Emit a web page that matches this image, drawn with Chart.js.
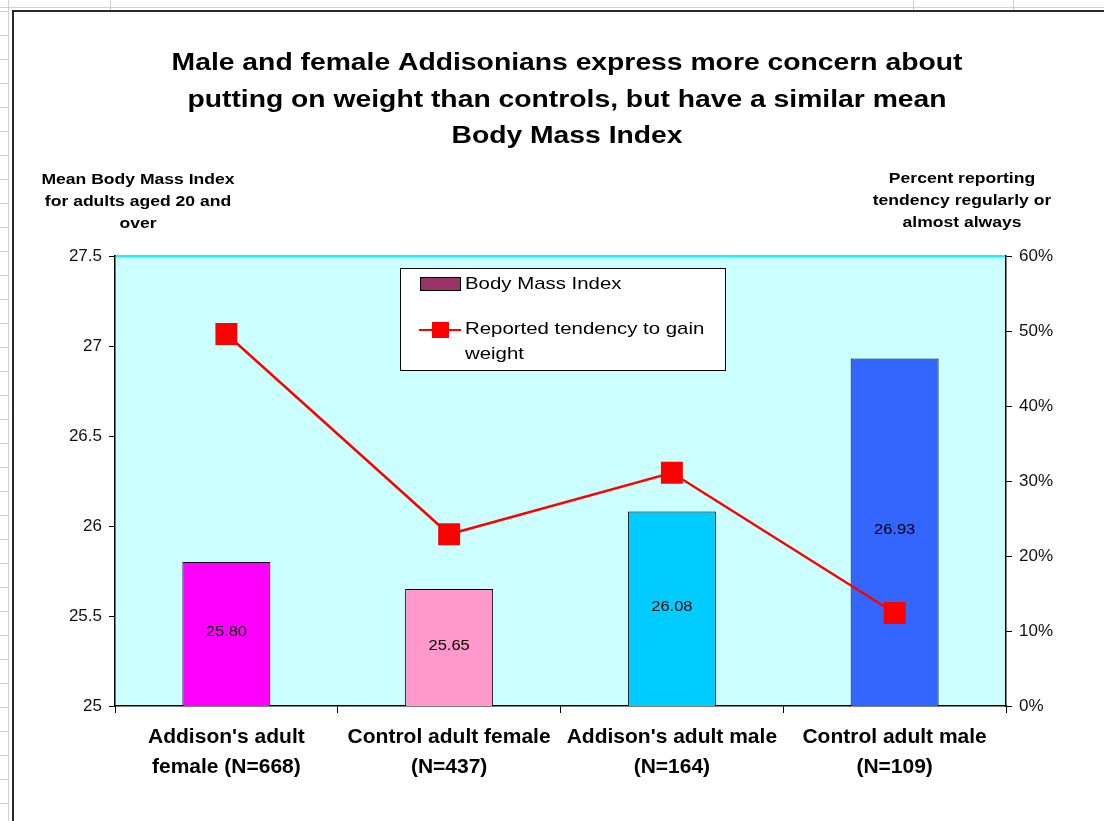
<!DOCTYPE html>
<html lang="en">
<head>
  <meta charset="UTF-8" />
  <title>Addisonians - BMI and weight gain</title>
  <script src="https://cdn.jsdelivr.net/npm/chart.js"></script>
  <style>
    body {
      margin: 0;
      padding: 0;
      background: #ffffff;
      overflow: hidden;
    }
    canvas {
      display: block;
    }
  </style>
</head>
<body>
  <canvas id="bmiChart" width="1104" height="821"></canvas>

  <script>
    // groups shown along the bottom
    const categories = [
      ["Addison's adult", "female (N=668)"],
      ["Control adult female", "(N=437)"],
      ["Addison's adult male", "(N=164)"],
      ["Control adult male", "(N=109)"]
    ];

    // mean BMI per group
    const bmiValues = [25.80, 25.65, 26.08, 26.93];
    // percent reporting a tendency to gain weight
    const gainPercent = [49.6, 22.9, 31.1, 12.4];

    const barColors = ['#FF00FF', '#FF99CC', '#00CCFF', '#3366FF'];
    const bmiLegendColor = '#993366';

    const titleLines = [
      'Male and female Addisonians express more concern about',
      'putting on weight than controls, but have a similar mean',
      'Body Mass Index'
    ];
    const leftAxisTitle = ['Mean Body Mass Index', 'for adults aged 20 and', 'over'];
    const rightAxisTitle = ['Percent reporting', 'tendency regularly or', 'almost always'];

    const FONT = '"Liberation Sans", Arial, sans-serif';

    // text drawn a bit wider than the font, like the old spreadsheet renderer
    function wideText(ctx, text, x, y, font, sx, align) {
      ctx.save();
      ctx.font = font;
      ctx.fillStyle = '#000';
      ctx.textAlign = align || 'center';
      ctx.textBaseline = 'middle';
      ctx.translate(x, y);
      ctx.scale(sx, 1);
      ctx.fillText(text, 0, 0);
      ctx.restore();
    }

    const decorations = {
      id: 'decorations',
      beforeDraw(chart) {
        const ctx = chart.ctx;
        const area = chart.chartArea;
        ctx.save();
        ctx.fillStyle = '#fff';
        ctx.fillRect(0, 0, chart.width, chart.height);

        // sheet cells peeking out behind the chart
        ctx.strokeStyle = '#cfcfcf';
        ctx.lineWidth = 1;
        ctx.beginPath();
        ctx.moveTo(0, 7.5); ctx.lineTo(chart.width, 7.5);
        ctx.moveTo(8.5, 0); ctx.lineTo(8.5, chart.height);
        for (let y = 11; y < chart.height; y += 24) {
          ctx.moveTo(0, y + 0.5); ctx.lineTo(9, y + 0.5);
        }
        [110, 913, 1013].forEach(x => {
          ctx.moveTo(x + 0.5, 0); ctx.lineTo(x + 0.5, 10);
        });
        ctx.stroke();

        // chart frame
        ctx.strokeStyle = '#2a2a2a';
        ctx.lineWidth = 2;
        ctx.beginPath();
        ctx.moveTo(13, chart.height); ctx.lineTo(13, 11); ctx.lineTo(chart.width, 11);
        ctx.stroke();

        // plot area
        ctx.fillStyle = '#CCFFFF';
        ctx.fillRect(area.left, area.top, area.right - area.left, area.bottom - area.top);
        ctx.strokeStyle = '#00FFFF';
        ctx.lineWidth = 2;
        ctx.beginPath();
        ctx.moveTo(area.left, area.top); ctx.lineTo(area.right, area.top);
        ctx.stroke();
        ctx.restore();

        // titles
        titleLines.forEach((t, i) => wideText(ctx, t, 567, 64 + i * 36.5, 'bold 23px ' + FONT, 1.23));
        leftAxisTitle.forEach((t, i) => wideText(ctx, t, 138, 180 + i * 22, 'bold 15px ' + FONT, 1.17));
        rightAxisTitle.forEach((t, i) => wideText(ctx, t, 962, 179 + i * 22, 'bold 15px ' + FONT, 1.17));
      },
      afterDraw(chart) {
        const ctx = chart.ctx;
        const xs = chart.scales.x;
        const ys = chart.scales.y;
        const [gain, bmi] = chart.data.datasets;

        // values in the middle of each bar
        bmi.data.forEach((v, i) => {
          const top = ys.getPixelForValue(v);
          const base = ys.getPixelForValue(ys.min);
          wideText(ctx, v.toFixed(2), xs.getPixelForValue(i), (top + base) / 2 - 2, '15px ' + FONT, 1.1);
        });

        // category labels under the axis
        chart.data.labels.forEach((lines, i) => {
          const x = xs.getPixelForValue(i);
          lines.forEach((t, j) => wideText(ctx, t, x, 737 + j * 30, 'bold 20px ' + FONT, 1.05));
        });

        ctx.save();
        // legend box
        ctx.fillStyle = '#fff';
        ctx.fillRect(400, 268, 325, 102);
        ctx.strokeStyle = '#000';
        ctx.lineWidth = 1;
        ctx.strokeRect(400.5, 268.5, 325, 102);

        ctx.fillStyle = bmiLegendColor;
        ctx.fillRect(420, 277, 40, 13);
        ctx.strokeRect(420.5, 277.5, 40, 13);

        ctx.strokeStyle = gain.borderColor;
        ctx.lineWidth = 2;
        ctx.beginPath();
        ctx.moveTo(419, 330); ctx.lineTo(461, 330);
        ctx.stroke();
        ctx.fillStyle = gain.pointBackgroundColor;
        ctx.fillRect(432, 322, 17, 16);
        ctx.restore();

        wideText(ctx, bmi.label, 465, 284, '17px ' + FONT, 1.2, 'left');
        const words = gain.label.split(' ');
        wideText(ctx, words.slice(0, 4).join(' '), 465, 329, '17px ' + FONT, 1.2, 'left');
        wideText(ctx, words.slice(4).join(' '), 465, 354, '17px ' + FONT, 1.2, 'left');
      }
    };

    new Chart(document.getElementById('bmiChart'), {
      data: {
        labels: categories,
        datasets: [
          {
            type: 'line',
            label: 'Reported tendency to gain weight',
            data: gainPercent,
            yAxisID: 'y1',
            borderColor: '#FF0000',
            borderWidth: 2.5,
            pointStyle: 'rect',
            pointRadius: 15.5,
            pointBorderWidth: 0,
            pointBackgroundColor: '#FF0000',
            tension: 0,
            order: 0
          },
          {
            type: 'bar',
            label: 'Body Mass Index',
            data: bmiValues,
            yAxisID: 'y',
            backgroundColor: barColors,
            borderColor: '#000',
            borderWidth: 1,
            categoryPercentage: 1,
            barPercentage: 0.395,
            order: 1
          }
        ]
      },
      options: {
        responsive: false,
        animation: false,
        layout: { padding: { top: 256, left: 0, right: 0, bottom: 0 } },
        plugins: {
          legend: { display: false },
          title: { display: false },
          tooltip: { enabled: false }
        },
        scales: {
          x: {
            grid: { drawOnChartArea: false, drawTicks: true, tickLength: 7, color: '#000', offset: true },
            border: { display: true, color: '#000', width: 1.5 },
            ticks: { display: false },
            afterFit(scale) { scale.height = 115; }
          },
          y: {
            position: 'left',
            min: 25,
            max: 27.5,
            ticks: {
              stepSize: 0.5,
              color: '#111',
              padding: 7,
              font: { family: FONT, size: 17 },
              callback: v => String(v)
            },
            grid: { drawOnChartArea: false, drawTicks: true, tickLength: 6, color: '#000' },
            border: { display: true, color: '#000', width: 1.5 },
            afterFit(scale) { scale.width = 115; }
          },
          y1: {
            position: 'right',
            min: 0,
            max: 60,
            ticks: {
              stepSize: 10,
              color: '#111',
              padding: 7,
              font: { family: FONT, size: 17 },
              callback: v => v + '%'
            },
            grid: { drawOnChartArea: false, drawTicks: true, tickLength: 6, color: '#000' },
            border: { display: true, color: '#000', width: 1.5 },
            afterFit(scale) { scale.width = 98; }
          }
        }
      },
      plugins: [decorations]
    });
  </script>
</body>
</html>
